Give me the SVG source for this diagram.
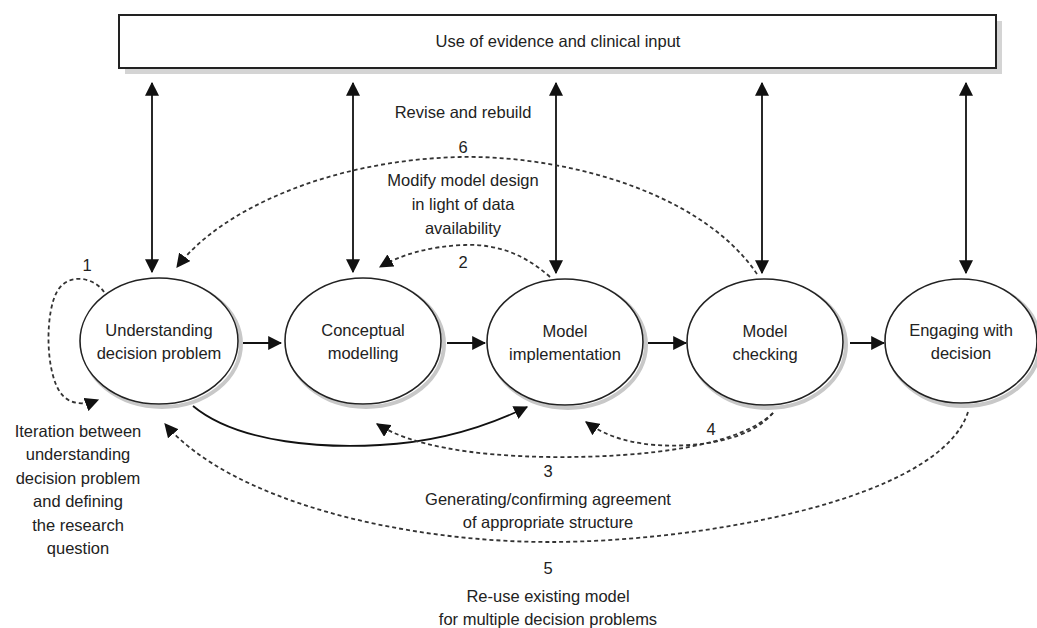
<svg xmlns="http://www.w3.org/2000/svg" width="1037" height="628" viewBox="0 0 1037 628">
<style>
text{font-family:"Liberation Sans",Arial,sans-serif;font-size:16.5px;fill:#222;text-anchor:middle}
.node ellipse.n{fill:#fff;stroke:#222;stroke-width:1.6}
.node ellipse.s{fill:none;stroke:#c8c8c8;stroke-width:4}
.solid{fill:none;stroke:#111;stroke-width:1.8}
.dash{fill:none;stroke:#333;stroke-width:1.8;stroke-dasharray:4 3}
</style>
<defs>
<marker id="ah" viewBox="0 0 12 12" refX="11" refY="6" markerWidth="14" markerHeight="14" markerUnits="userSpaceOnUse" orient="auto-start-reverse">
<path d="M0,0 L12,6 L0,12 Z" fill="#111"/>
</marker>
</defs>
<rect width="1037" height="628" fill="#fff"/>
<g id="evidence">
<rect x="125" y="21" width="877" height="53" fill="#d4d4d4"/>
<rect x="119" y="15" width="877" height="53" fill="#fff" stroke="#222" stroke-width="2"/>
<text x="558" y="47">Use of evidence and clinical input</text>
</g>
<g id="n1" class="node">
<ellipse class="s" cx="162" cy="344" rx="79" ry="63"/>
<ellipse class="n" cx="159" cy="341" rx="79" ry="63"/>
<text x="159" y="336">Understanding</text>
<text x="159" y="359">decision problem</text>
</g>
<g id="n2" class="node">
<ellipse class="s" cx="366" cy="344" rx="78" ry="63"/>
<ellipse class="n" cx="363" cy="341" rx="78" ry="63"/>
<text x="363" y="336">Conceptual</text>
<text x="363" y="359">modelling</text>
</g>
<g id="n3" class="node">
<ellipse class="s" cx="568" cy="345" rx="78" ry="63"/>
<ellipse class="n" cx="565" cy="342" rx="78" ry="63"/>
<text x="565" y="337">Model</text>
<text x="565" y="360">implementation</text>
</g>
<g id="n4" class="node">
<ellipse class="s" cx="768" cy="345" rx="78" ry="63"/>
<ellipse class="n" cx="765" cy="342" rx="78" ry="63"/>
<text x="765" y="337">Model</text>
<text x="765" y="360">checking</text>
</g>
<g id="n5" class="node">
<ellipse class="s" cx="964" cy="344" rx="76" ry="62"/>
<ellipse class="n" cx="961" cy="341" rx="76" ry="62"/>
<text x="961" y="336">Engaging with</text>
<text x="961" y="359">decision</text>
</g>
<g id="connectors">
<line class="solid" x1="152" y1="83" x2="152" y2="272" marker-start="url(#ah)" marker-end="url(#ah)"/>
<line class="solid" x1="353" y1="83" x2="353" y2="272" marker-start="url(#ah)" marker-end="url(#ah)"/>
<line class="solid" x1="556" y1="83" x2="556" y2="273" marker-start="url(#ah)" marker-end="url(#ah)"/>
<line class="solid" x1="762" y1="83" x2="762" y2="273" marker-start="url(#ah)" marker-end="url(#ah)"/>
<line class="solid" x1="966" y1="83" x2="966" y2="273" marker-start="url(#ah)" marker-end="url(#ah)"/>
<line class="solid" x1="243" y1="343" x2="281" y2="343" marker-end="url(#ah)"/>
<line class="solid" x1="447" y1="343" x2="485" y2="343" marker-end="url(#ah)"/>
<line class="solid" x1="648" y1="343" x2="686" y2="343" marker-end="url(#ah)"/>
<line class="solid" x1="850" y1="343" x2="884" y2="343" marker-end="url(#ah)"/>
<path class="solid" d="M193,406 C240,445 330,448 380,445 C440,442 490,425 527,407" marker-end="url(#ah)"/>
<path class="dash" d="M104,292 C95,278 70,272 58,290 C45,310 45,370 60,392 C68,404 82,406 98,400" marker-end="url(#ah)"/>
<path class="dash" d="M757,274 C700,190 560,155 460,157 C330,160 220,210 177,267" marker-end="url(#ah)"/>
<path class="dash" d="M550,277 C520,250 490,244 465,245 C430,246 400,255 380,267" marker-end="url(#ah)"/>
<path class="dash" d="M773,413 C740,445 650,458 550,457 C470,456 410,445 377,424" marker-end="url(#ah)"/>
<path class="dash" d="M773,413 C750,440 700,448 655,445 C620,442 600,432 586,422" marker-end="url(#ah)"/>
<path class="dash" d="M968,412 C940,500 700,542 550,542 C400,542 230,500 165,424" marker-end="url(#ah)"/>
</g>
<g id="labels">
<text x="87" y="271">1</text>
<text x="78" y="437">Iteration between</text>
<text x="78" y="460">understanding</text>
<text x="78" y="484">decision problem</text>
<text x="78" y="507">and defining</text>
<text x="78" y="531">the research</text>
<text x="78" y="554">question</text>
<text x="463" y="118">Revise and rebuild</text>
<text x="463" y="153">6</text>
<text x="463" y="186">Modify model design</text>
<text x="463" y="210">in light of data</text>
<text x="463" y="234">availability</text>
<text x="463" y="268">2</text>
<text x="711" y="435">4</text>
<text x="548" y="477">3</text>
<text x="548" y="505">Generating/confirming agreement</text>
<text x="548" y="528">of appropriate structure</text>
<text x="548" y="574">5</text>
<text x="548" y="602">Re-use existing model</text>
<text x="548" y="625">for multiple decision problems</text>
</g>
</svg>
